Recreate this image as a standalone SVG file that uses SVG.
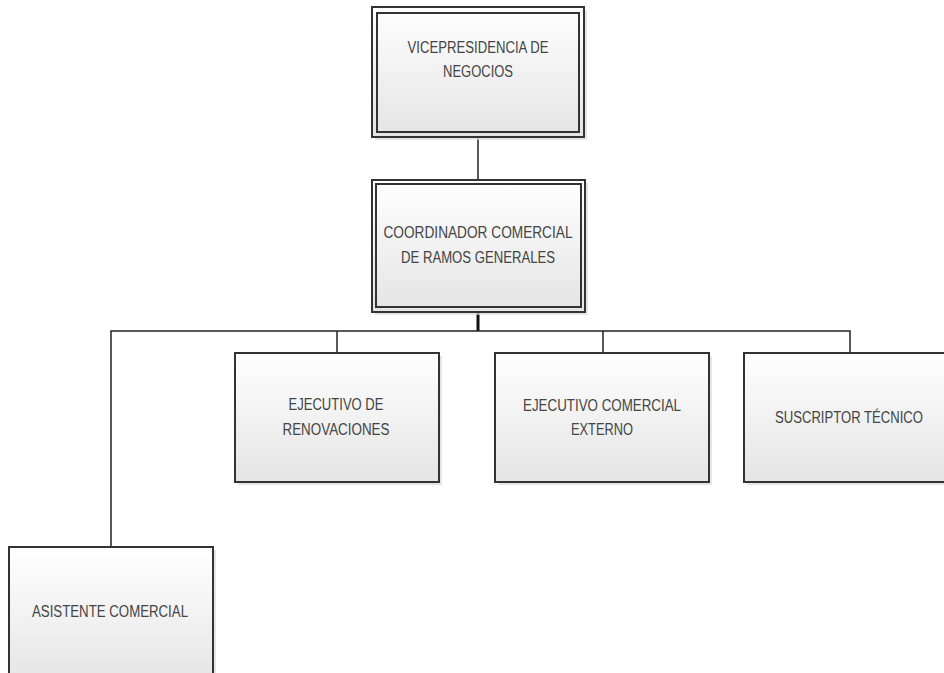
<svg xmlns="http://www.w3.org/2000/svg" width="944" height="673" viewBox="0 0 944 673">
<style>
.box{fill:url(#g);stroke:#333;stroke-width:2}
.inner{fill:none;stroke:#333;stroke-width:2}
.sh{fill:#dcdcdc;opacity:0.7}
.t{font-family:"Liberation Sans",Arial,sans-serif;font-size:16px;fill:#444;text-anchor:middle}
.c{fill:none;stroke:#222;stroke-width:1.5}
</style>
<defs>
<linearGradient id="g" x1="0" y1="0" x2="0" y2="1">
<stop offset="0" stop-color="#ffffff"/>
<stop offset="1" stop-color="#e4e4e4"/>
</linearGradient>
</defs>
<rect width="944" height="673" fill="#fff"/>
<g id="connectors">
<line class="c" x1="478" y1="137" x2="478" y2="180"/>
<line x1="478" y1="312" x2="478" y2="331" stroke="#111" stroke-width="3"/>
<polyline class="c" points="111,547 111,331 850,331 850,353"/>
<line class="c" x1="337" y1="331" x2="337" y2="353"/>
<line class="c" x1="603" y1="331" x2="603" y2="353"/>
</g>
<g id="vicepresidencia">
<rect class="sh" x="375" y="10" width="212" height="130"/>
<rect class="box" x="372" y="7" width="212" height="130"/>
<rect class="inner" x="377" y="13" width="202" height="119"/>
<text class="t" x="478" y="53" textLength="141" lengthAdjust="spacingAndGlyphs">VICEPRESIDENCIA DE</text>
<text class="t" x="478" y="77" textLength="70" lengthAdjust="spacingAndGlyphs">NEGOCIOS</text>
</g>
<g id="coordinador">
<rect class="sh" x="375" y="183" width="213" height="132"/>
<rect class="box" x="372" y="180" width="213" height="132"/>
<rect class="inner" x="376" y="184" width="205" height="123"/>
<text class="t" x="478" y="238" textLength="189" lengthAdjust="spacingAndGlyphs">COORDINADOR COMERCIAL</text>
<text class="t" x="478" y="263" textLength="154" lengthAdjust="spacingAndGlyphs">DE RAMOS GENERALES</text>
</g>
<g id="renovaciones">
<rect class="sh" x="238" y="356" width="204" height="129"/>
<rect class="box" x="235" y="353" width="204" height="129"/>
<text class="t" x="336" y="410" textLength="95" lengthAdjust="spacingAndGlyphs">EJECUTIVO DE</text>
<text class="t" x="336" y="435" textLength="107" lengthAdjust="spacingAndGlyphs">RENOVACIONES</text>
</g>
<g id="externo">
<rect class="sh" x="498" y="356" width="214" height="129"/>
<rect class="box" x="495" y="353" width="214" height="129"/>
<text class="t" x="602" y="411" textLength="158" lengthAdjust="spacingAndGlyphs">EJECUTIVO COMERCIAL</text>
<text class="t" x="602" y="435" textLength="62" lengthAdjust="spacingAndGlyphs">EXTERNO</text>
</g>
<g id="suscriptor">
<rect class="sh" x="747" y="356" width="214" height="129"/>
<rect class="box" x="744" y="353" width="214" height="129"/>
<text class="t" x="849" y="423" textLength="148" lengthAdjust="spacingAndGlyphs">SUSCRIPTOR TÉCNICO</text>
</g>
<g id="asistente">
<rect class="sh" x="12" y="550" width="204" height="140"/>
<rect class="box" x="9" y="547" width="204" height="140"/>
<text class="t" x="110" y="617" textLength="156" lengthAdjust="spacingAndGlyphs">ASISTENTE COMERCIAL</text>
</g>
</svg>
